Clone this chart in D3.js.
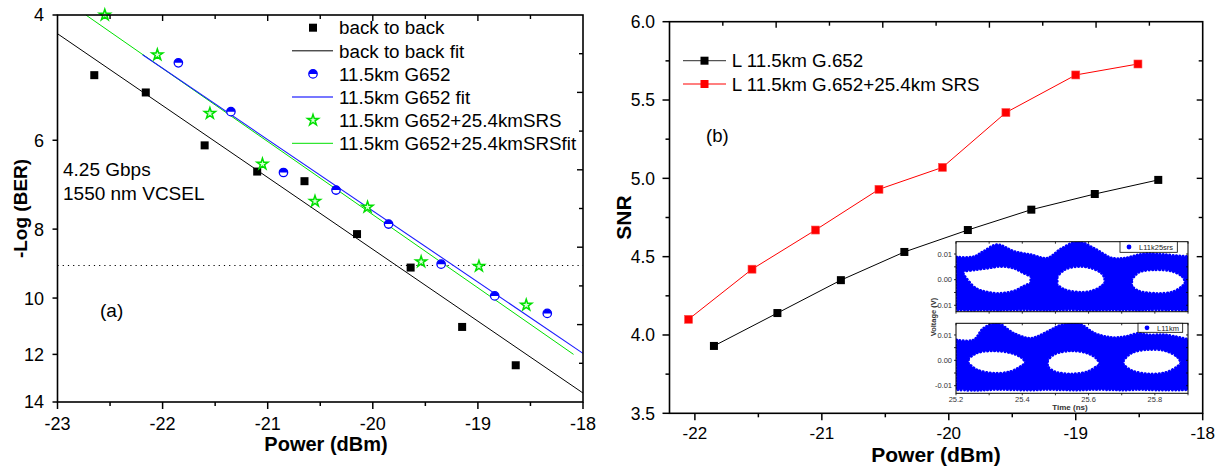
<!DOCTYPE html>
<html><head><meta charset="utf-8">
<script src="https://cdn.jsdelivr.net/npm/d3@7/dist/d3.min.js"></script>
<style>body{margin:0;background:#fff}svg{display:block;font-family:"Liberation Sans",Arial,Helvetica,sans-serif}</style>
</head><body><svg id="c" width="1223" height="468"></svg>
<script>
// ---------- Panel (a) data ----------
const b2bPower = [-22.65,-22.16,-21.60,-21.10,-20.65,-20.15,-19.64,-19.15,-18.64];
const b2bBER   = [4.86,5.14,6.10,6.64,6.85,8.13,9.06,10.98,12.43];
const b2bFit   = [[-23,4.25],[-18,13.6]];
const g652Power = [-21.85,-21.35,-20.85,-20.35,-19.85,-19.35,-18.84,-18.34];
const g652BER   = [4.67,5.47,6.66,7.05,7.87,8.96,9.93,10.51];
const g652Fit   = [[-22.19,4.55],[-18,11.96]];
const srsPower = [-22.55,-22.05,-21.55,-21.05,-20.55,-20.05,-19.54,-18.99,-18.54];
const srsBER   = [4.0,4.55,5.50,6.48,7.31,7.45,8.89,9.02,10.23];
const srsFit   = [[-22.73,4.0],[-18.09,12.0]];
const berThreshold = 9;
const aXTicks = [-23,-22,-21,-20,-19,-18];
const aYTicks = [4,6,8,10,12,14];
const aLegend = ["back to back","back to back fit","11.5km G652","11.5km G652 fit","11.5km G652+25.4kmSRS","11.5km G652+25.4kmSRSfit"];

// ---------- Panel (b) data ----------
const snrPowerG652 = [-21.85,-21.35,-20.85,-20.35,-19.85,-19.35,-18.85,-18.35];
const snrG652      = [3.93,4.14,4.35,4.53,4.67,4.80,4.90,4.99];
const snrPowerSRS  = [-22.05,-21.55,-21.05,-20.55,-20.05,-19.55,-19.00,-18.51];
const snrSRS       = [4.10,4.42,4.67,4.93,5.07,5.42,5.66,5.73];
const bXTicks = [-22,-21,-20,-19,-18];
const bYTicks = [3.5,4.0,4.5,5.0,5.5,6.0];
const bLegend = ["L 11.5km G.652","L 11.5km G.652+25.4km SRS"];

// ---------- Inset eye diagrams ----------
const eyeTime = [25.202,25.253,25.283,25.324,25.375,25.426,25.476,25.517,25.568,25.619,25.670,25.710,25.751,25.781,25.832,25.908];
const eyeTopSRS  = [0.0088,0.0089,0.0110,0.0136,0.0110,0.0097,0.0084,0.0120,0.0148,0.0120,0.0084,0.0084,0.0097,0.0102,0.0097,0.0089];
const eyeBotSRS  = [-0.0118,-0.0119,-0.0118,-0.0119,-0.0118,-0.0118,-0.0119,-0.0118,-0.0118,-0.0119,-0.0118,-0.0118,-0.0119,-0.0118,-0.0118,-0.0119];
const eyeTop11   = [0.0080,0.0080,0.0126,0.0146,0.0106,0.0087,0.0113,0.0139,0.0146,0.0106,0.0090,0.0093,0.0106,0.0100,0.0100,0.0080];
const eyeBot11   = [-0.0116,-0.0118,-0.0117,-0.0115,-0.0116,-0.0117,-0.0115,-0.0116,-0.0117,-0.0115,-0.0116,-0.0117,-0.0115,-0.0116,-0.0117,-0.0116];
// eye openings: [time, upper edge, lower edge]
const openingsSRS = [
  [[25.222,0.0033,0.0020],[25.258,0.0039,-0.0033],[25.294,0.0045,-0.0049],[25.334,0.0052,-0.0054],[25.375,0.0045,-0.0045],[25.405,0.0026,-0.0026],[25.426,0.0013,-0.0013]],
  [[25.505,0.0013,-0.0020],[25.527,0.0039,-0.0039],[25.568,0.0052,-0.0049],[25.609,0.0045,-0.0045],[25.639,0.0026,-0.0026],[25.649,0.0007,-0.0013]],
  [[25.730,0.0000,-0.0026],[25.751,0.0029,-0.0045],[25.802,0.0039,-0.0054],[25.852,0.0033,-0.0049],[25.883,0.0013,-0.0026],[25.891,-0.0006,-0.0015]]
];
const openings11 = [
  [[25.2375,0.0008,-0.0012],[25.263,0.0030,-0.0038],[25.314,0.0038,-0.0051],[25.365,0.0030,-0.0045],[25.395,0.0014,-0.0025],[25.410,-0.0005,-0.0012]],
  [[25.476,0.0001,-0.0025],[25.497,0.0025,-0.0045],[25.548,0.0038,-0.0054],[25.598,0.0028,-0.0045],[25.624,0.0008,-0.0025],[25.634,-0.0012,-0.0018]],
  [[25.705,0.0001,-0.0018],[25.730,0.0030,-0.0041],[25.781,0.0043,-0.0054],[25.832,0.0038,-0.0049],[25.868,0.0014,-0.0025],[25.878,-0.0005,-0.0012]]
];
const insetXTicks = [25.2,25.4,25.6,25.8];
const insetYTicks = [-0.01,0,0.01];

const svg = d3.select("#c");

function mirrorTicks(g, x0, x1, y0, y1){
  const tx = d3.scaleLinear().domain([0,10]).range([x0,x1]);
  const ty = d3.scaleLinear().domain([0,10]).range([y0,y1]);
  d3.range(1,10).forEach(i=>{
    const L = i%2 ? 4 : 6;
    g.append("line").attr("x1",tx(i)).attr("x2",tx(i)).attr("y1",y0).attr("y2",y0+L).attr("stroke","#000").attr("stroke-width",1.4);
    g.append("line").attr("x1",x1).attr("x2",x1-L).attr("y1",ty(i)).attr("y2",ty(i)).attr("stroke","#000").attr("stroke-width",1.4);
  });
}

// ================= Panel (a) =================
{
  const x = d3.scaleLinear().domain([-23,-18]).range([57.5,583]);
  const y = d3.scaleLog().domain([4,14]).range([15,402]);
  const g = svg.append("g");
  g.append("line").attr("x1",x(-23)).attr("x2",x(-18)).attr("y1",y(berThreshold)).attr("y2",y(berThreshold))
    .attr("stroke","#000").attr("stroke-width",1).attr("stroke-dasharray","1.2,4");
  const line = d3.line().x(d=>x(d[0])).y(d=>y(d[1]));
  g.append("path").attr("d",line(b2bFit)).attr("stroke","#000").attr("stroke-width",1).attr("fill","none");
  g.append("path").attr("d",line(srsFit)).attr("stroke","#00e000").attr("stroke-width",1).attr("fill","none");
  g.append("path").attr("d",line(g652Fit)).attr("stroke","#1a1aff").attr("stroke-width",1.1).attr("fill","none");
  g.selectAll(".sq").data(b2bPower).enter().append("rect")
    .attr("x",(d,i)=>x(d)-4).attr("y",(d,i)=>y(b2bBER[i])-4).attr("width",8).attr("height",8).attr("fill","#000");
  const half = d3.arc().innerRadius(0).outerRadius(4.2).startAngle(-Math.PI/2).endAngle(Math.PI/2)();
  function halfCircle(sel,cx,cy){
    sel.append("circle").attr("cx",cx).attr("cy",cy).attr("r",4.2).attr("fill","#fff").attr("stroke","#0000ff").attr("stroke-width",1.3);
    sel.append("path").attr("d",half).attr("transform",`translate(${cx},${cy})`).attr("fill","#0000ff");
  }
  g652Power.forEach((d,i)=>halfCircle(g,x(d),y(g652BER[i])));
  const star = d3.symbol(d3.symbolStar).size(38)();
  srsPower.forEach((d,i)=>g.append("path").attr("d",star).attr("transform",`translate(${x(d)},${y(srsBER[i])})`)
    .attr("fill","#d8ffd8").attr("stroke","#00e000").attr("stroke-width",1.5));
  g.append("rect").attr("x",x(-23)).attr("y",y(4)).attr("width",x(-18)-x(-23)).attr("height",y(14)-y(4))
    .attr("fill","none").attr("stroke","#000").attr("stroke-width",1.6);
  mirrorTicks(g, x(-23), x(-18), y(4), y(14));
  d3.range(-23,-17.9,0.5).forEach(v=>{
    const maj = Math.abs(v-Math.round(v))<1e-6;
    g.append("line").attr("x1",x(v)).attr("x2",x(v)).attr("y1",y(14)).attr("y2",y(14)+(maj?7:4)).attr("stroke","#000").attr("stroke-width",1.5);
  });
  aXTicks.forEach(v=>g.append("text").attr("x",x(v)).attr("y",430).attr("text-anchor","middle").attr("font-size",18).text(v));
  aYTicks.forEach(v=>{
    g.append("line").attr("x1",x(-23)).attr("x2",x(-23)-5).attr("y1",y(v)).attr("y2",y(v)).attr("stroke","#000").attr("stroke-width",1.5);
    g.append("text").attr("x",44).attr("y",y(v)).attr("dy","0.36em").attr("text-anchor","end").attr("font-size",18).text(v);
  });
  g.append("text").attr("transform",`translate(27,${(y(4)+y(14))/2}) rotate(-90)`).attr("text-anchor","middle")
    .attr("font-size",19).attr("font-weight","bold").text("-Log (BER)");
  g.append("text").attr("x",326).attr("y",451).attr("text-anchor","middle").attr("font-size",20).attr("font-weight","bold").text("Power (dBm)");
  g.append("text").attr("x",63).attr("y",176).attr("font-size",19).text("4.25 Gbps");
  g.append("text").attr("x",63).attr("y",200).attr("font-size",19).text("1550 nm VCSEL");
  g.append("text").attr("x",100).attr("y",317).attr("font-size",19).text("(a)");
  const ly = d3.scaleLinear().domain([0,5]).range([27.7,143.3]);
  aLegend.forEach((t,i)=>{
    const yy = ly(i);
    if(i===0) g.append("rect").attr("x",309).attr("y",yy-4).attr("width",8).attr("height",8).attr("fill","#000");
    if(i===1) g.append("line").attr("x1",292).attr("x2",333).attr("y1",yy).attr("y2",yy).attr("stroke","#000");
    if(i===2) halfCircle(g,313,yy);
    if(i===3) g.append("line").attr("x1",292).attr("x2",333).attr("y1",yy).attr("y2",yy).attr("stroke","#4a4aff").attr("stroke-width",1.5);
    if(i===4) g.append("path").attr("d",star).attr("transform",`translate(313,${yy})`).attr("fill","#d8ffd8").attr("stroke","#00e000").attr("stroke-width",1.5);
    if(i===5) g.append("line").attr("x1",292).attr("x2",333).attr("y1",yy).attr("y2",yy).attr("stroke","#00e000");
    g.append("text").attr("x",339).attr("y",yy).attr("dy","0.36em").attr("font-size",18.8).text(t);
  });
}

// ================= Panel (b) =================
{
  const x = d3.scaleLinear().domain([-22.2,-18]).range([669.5,1202.7]);
  const y = d3.scaleLinear().domain([3.5,6]).range([413.3,21.7]);
  const g = svg.append("g");
  const line = d3.line().x(d=>x(d[0])).y(d=>y(d[1]));
  const s1 = snrPowerG652.map((p,i)=>[p,snrG652[i]]);
  const s2 = snrPowerSRS.map((p,i)=>[p,snrSRS[i]]);
  g.append("path").attr("d",line(s1)).attr("stroke","#000").attr("stroke-width",1).attr("fill","none");
  g.append("path").attr("d",line(s2)).attr("stroke","#ff0000").attr("stroke-width",1).attr("fill","none");
  s1.forEach(d=>g.append("rect").attr("x",x(d[0])-4).attr("y",y(d[1])-4).attr("width",8).attr("height",8).attr("fill","#000"));
  s2.forEach(d=>g.append("rect").attr("x",x(d[0])-4).attr("y",y(d[1])-4).attr("width",8).attr("height",8).attr("fill","#ff0000").attr("stroke","#ff5050").attr("stroke-width",0.6));
  g.append("rect").attr("x",x(-22.2)).attr("y",y(6)).attr("width",x(-18)-x(-22.2)).attr("height",y(3.5)-y(6))
    .attr("fill","none").attr("stroke","#000").attr("stroke-width",1.6);
  mirrorTicks(g, x(-22.2), x(-18), y(6), y(3.5));
  d3.range(-22,-17.9,0.5).forEach(v=>{
    const maj = Math.abs(v-Math.round(v))<1e-6;
    g.append("line").attr("x1",x(v)).attr("x2",x(v)).attr("y1",y(3.5)).attr("y2",y(3.5)+(maj?7:4)).attr("stroke","#000").attr("stroke-width",1.5);
  });
  d3.range(3.5,6.01,0.25).forEach(v=>{
    const maj = Math.abs(v*2-Math.round(v*2))<1e-6;
    g.append("line").attr("x1",x(-22.2)).attr("x2",x(-22.2)-(maj?7:4)).attr("y1",y(v)).attr("y2",y(v)).attr("stroke","#000").attr("stroke-width",1.5);
  });
  bXTicks.forEach(v=>g.append("text").attr("x",x(v)).attr("y",439).attr("text-anchor","middle").attr("font-size",17).text(v));
  bYTicks.forEach(v=>g.append("text").attr("x",655).attr("y",y(v)).attr("dy","0.36em").attr("text-anchor","end").attr("font-size",17.5).text(v.toFixed(1)));
  g.append("text").attr("transform",`translate(631,${(y(3.5)+y(6))/2}) rotate(-90)`).attr("text-anchor","middle")
    .attr("font-size",21).attr("font-weight","bold").text("SNR");
  g.append("text").attr("x",936).attr("y",461.5).attr("text-anchor","middle").attr("font-size",21).attr("font-weight","bold").text("Power (dBm)");
  g.append("text").attr("x",706).attr("y",142).attr("font-size",18.5).text("(b)");
  const cols = ["#000","#ff0000"], lc = ["#555","#ff0000"];
  bLegend.forEach((t,i)=>{
    const yy = [60.7,84][i];
    g.append("line").attr("x1",683).attr("x2",726).attr("y1",yy).attr("y2",yy).attr("stroke",lc[i]).attr("stroke-width",1.2);
    g.append("rect").attr("x",700.5).attr("y",yy-4).attr("width",8).attr("height",8).attr("fill",cols[i]);
    g.append("text").attr("x",731.7).attr("y",yy).attr("dy","0.36em").attr("font-size",18.8).text(t);
  });

  // ---------- Inset ----------
  const ix = d3.scaleLinear().domain([25.2,25.9]).range([956,1188]);
  const panels = [
    {yd:[-0.0125,0.0148], yr:[311.7,241.7], top:eyeTopSRS, bot:eyeBotSRS, eyes:openingsSRS, name:"L11k25srs", box:[1120,241.7,57.3,10.6]},
    {yd:[-0.0130,0.0146], yr:[393.3,323.3], top:eyeTop11, bot:eyeBot11, eyes:openings11, name:"L11km", box:[1138,323.3,44.7,9]}
  ];
  const ig = g.append("g");
  panels.forEach((P,pi)=>{
    const iy = d3.scaleLinear().domain(P.yd).range(P.yr);
    const clipId = "clip"+pi;
    ig.append("clipPath").attr("id",clipId).append("rect").attr("x",ix(25.2)).attr("y",P.yr[1]).attr("width",ix(25.9)-ix(25.2)).attr("height",P.yr[0]-P.yr[1]);
    ig.append("rect").attr("x",ix(25.2)).attr("y",P.yr[1]).attr("width",ix(25.9)-ix(25.2)).attr("height",P.yr[0]-P.yr[1]).attr("fill","#fff");
    const cg = ig.append("g").attr("clip-path",`url(#${clipId})`);
    const band = d3.area().x((d,i)=>ix(eyeTime[i])).y1((d,i)=>iy(P.top[i])).y0((d,i)=>iy(P.bot[i])).curve(d3.curveCatmullRom);
    cg.append("path").attr("d",band(P.top)).attr("fill","#0000ff").attr("stroke","#0000ff").attr("stroke-width",3)
      .attr("stroke-dasharray","0.1,3.2").attr("stroke-linecap","round");
    const eye = d3.area().x(d=>ix(d[0])).y1(d=>iy(d[1])).y0(d=>iy(d[2])).curve(d3.curveCatmullRom);
    P.eyes.forEach(e=>{
      cg.append("path").attr("d",eye(e)).attr("fill","#fff").attr("stroke","#0000ff").attr("stroke-width",3.2)
        .attr("stroke-dasharray","0.1,3.4").attr("stroke-linecap","round");
    });
    ig.append("rect").attr("x",ix(25.2)).attr("y",P.yr[1]).attr("width",ix(25.9)-ix(25.2)).attr("height",P.yr[0]-P.yr[1])
      .attr("fill","none").attr("stroke","#000").attr("stroke-width",1);
    d3.range(-0.01,0.0101,0.005).forEach(v=>{
      ig.append("line").attr("x1",ix(25.2)).attr("x2",ix(25.2)-2).attr("y1",iy(v)).attr("y2",iy(v)).attr("stroke","#000").attr("stroke-width",0.8);
      ig.append("line").attr("x1",ix(25.9)).attr("x2",ix(25.9)-2).attr("y1",iy(v)).attr("y2",iy(v)).attr("stroke","#000").attr("stroke-width",0.8);
    });
    insetYTicks.forEach(v=>ig.append("text").attr("x",952).attr("y",iy(v)).attr("dy","0.36em").attr("text-anchor","end")
      .attr("font-size",7.5).attr("fill","#333").text(v.toFixed(2)));
    d3.range(25.2,25.91,0.1).forEach(v=>{
      ig.append("line").attr("x1",ix(v)).attr("x2",ix(v)).attr("y1",P.yr[0]).attr("y2",P.yr[0]+2).attr("stroke","#000").attr("stroke-width",0.8);
      ig.append("line").attr("x1",ix(v)).attr("x2",ix(v)).attr("y1",P.yr[1]).attr("y2",P.yr[1]+2).attr("stroke","#000").attr("stroke-width",0.8);
    });
    const [bx,by,bw,bh] = P.box;
    ig.append("rect").attr("x",bx).attr("y",by).attr("width",bw).attr("height",bh).attr("fill","#fff").attr("stroke","#000").attr("stroke-width",0.8);
    ig.append("circle").attr("cx",bx+9).attr("cy",by+bh/2).attr("r",2.4).attr("fill","#0000ff");
    ig.append("text").attr("x",bx+19).attr("y",by+bh/2).attr("dy","0.36em").attr("font-size",7.5).attr("fill","#222").text(P.name);
  });
  insetXTicks.forEach(v=>ig.append("text").attr("x",ix(v)).attr("y",402).attr("text-anchor","middle").attr("font-size",7.5).attr("fill","#333").text(v.toFixed(1)));
  ig.append("text").attr("x",1070).attr("y",410).attr("text-anchor","middle").attr("font-size",8).attr("font-weight","bold").attr("fill","#333").text("Time (ns)");
  ig.append("text").attr("transform","translate(936,317) rotate(-90)").attr("text-anchor","middle").attr("font-size",7.5).attr("font-weight","bold").attr("fill","#333").text("Voltage (V)");
}
</script></body></html>
